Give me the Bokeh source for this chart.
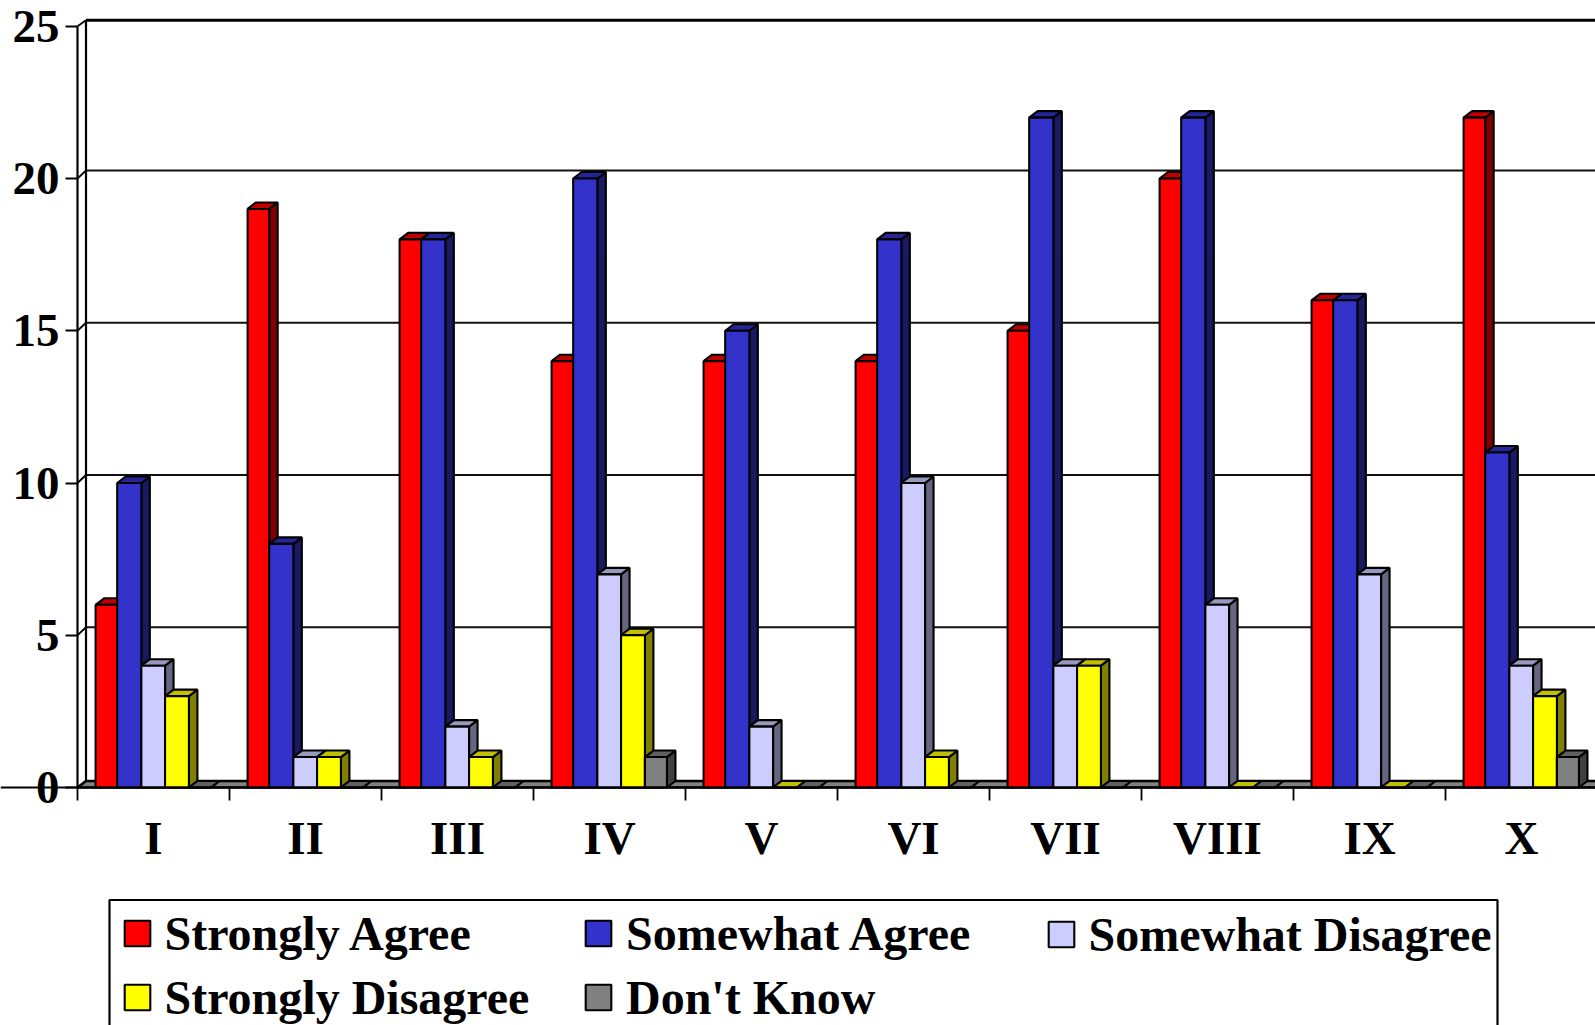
from bokeh.embed import file_html
from bokeh.resources import INLINE
from bokeh.plotting import figure
from bokeh.models import Range1d, FixedTicker, Legend, LegendItem, BoxAnnotation

questions = ["I", "II", "III", "IV", "V", "VI", "VII", "VIII", "IX", "X"]
strongly_agree = [6, 19, 18, 14, 14, 14, 15, 20, 16, 22]
somewhat_agree = [10, 8, 18, 20, 15, 18, 22, 22, 16, 11]
somewhat_disagree = [4, 1, 2, 7, 2, 10, 4, 6, 7, 4]
strongly_disagree = [3, 1, 1, 5, 0, 1, 4, 0, 0, 3]
dont_know = [0, 0, 0, 1, 0, 0, 0, 0, 0, 1]
y_ticks = [0, 5, 10, 15, 20, 25]

series_names = ["Strongly Agree", "Somewhat Agree", "Somewhat Disagree", "Strongly Disagree", "Don't Know"]
series_values = [strongly_agree, somewhat_agree, somewhat_disagree, strongly_disagree, dont_know]

# styling
FRONT = ["#ff0000", "#3333cc", "#ccccff", "#ffff00", "#808080"]
TOP = ["#c00000", "#262699", "#9999bf", "#c0c000", "#606060"]
SIDE = ["#800000", "#191966", "#666680", "#808000", "#404040"]
EDGES = [0.119, 0.261, 0.420, 0.576, 0.733, 0.878]
W, H = 1595, 1025
X0, Y0 = 77.0, 787.0
PX_X, PX_Y = 152.0, 30.45
DX, DY = 8.5 / PX_X, 6.5 / PX_Y
GRID_DY = 8.0 / PX_Y
TOP_DY = 6.0 / PX_Y
XMIN, XMAX = -X0 / PX_X, (W - X0) / PX_X
YMIN, YMAX = -(H - Y0) / PX_Y, Y0 / PX_Y
FONT = "Liberation Serif"
LW = 2.1

p = figure(width=W, height=H, output_backend="svg", toolbar_location=None,
           x_range=Range1d(XMIN, XMAX), y_range=Range1d(YMIN, YMAX),
           min_border_left=0, min_border_right=0, min_border_top=0, min_border_bottom=0,
           outline_line_color=None)
p.xgrid.visible = False
p.ygrid.visible = False

# floor
p.patch([0, XMAX, XMAX + DX, DX], [0, 0, DY, DY], fill_color="#808080", line_color="black", line_width=2.6)

# wall gridlines, back edge and their diagonals
inner = y_ticks[1:-1]
p.segment([DX for _ in inner], [t + GRID_DY for t in inner],
          [XMAX + DX for _ in inner], [t + GRID_DY for t in inner],
          line_color="#111111", line_width=1.8)
p.segment([DX], [y_ticks[-1] + TOP_DY], [XMAX + DX], [y_ticks[-1] + TOP_DY], line_color="black", line_width=3)
p.segment([0 for _ in inner], inner, [DX for _ in inner], [t + GRID_DY for t in inner],
          line_color="black", line_width=1.8)
p.segment([0], [y_ticks[0]], [DX], [y_ticks[0] + DY], line_color="black", line_width=1.8)
p.segment([0], [y_ticks[-1]], [DX], [y_ticks[-1] + TOP_DY], line_color="black", line_width=1.8)
p.segment([DX], [DY], [DX], [y_ticks[-1] + TOP_DY], line_color="black", line_width=2.2)

# bars
fronts = []
for k, vals in enumerate(series_values):
    lefts = [i + EDGES[k] for i in range(len(vals))]
    rights = [i + EDGES[k + 1] for i in range(len(vals))]
    p.patches([[r, r + DX, r + DX, r] for r in rights],
              [[0, DY, v + DY, v] for v in vals],
              fill_color=SIDE[k], line_color="black", line_width=LW)
    p.patches([[l, l + DX, r + DX, r] for l, r in zip(lefts, rights)],
              [[v, v + DY, v + DY, v] for v in vals],
              fill_color=TOP[k], line_color="black", line_width=LW)
    fronts.append(p.quad(left=lefts, right=rights, bottom=0, top=vals,
                         fill_color=FRONT[k], line_color="black", line_width=LW))

# axes
yax = p.yaxis[0]
yax.fixed_location = 0
yax.ticker = FixedTicker(ticks=y_ticks)
yax.bounds = (0, 25)
yax.major_tick_out = 12
yax.major_tick_in = 0
yax.minor_tick_out = 0
yax.minor_tick_in = 0
yax.major_tick_line_width = 1.8
yax.axis_line_width = 2.2
yax.major_label_standoff = 6
yax.major_label_text_font = FONT
yax.major_label_text_font_style = "bold"
yax.major_label_text_font_size = "47px"
yax.major_label_text_color = "black"

xax = p.xaxis[0]
xax.fixed_location = 0
xax.ticker = FixedTicker(ticks=[i + 0.5 for i in range(len(questions))],
                         minor_ticks=list(range(len(questions) + 1)))
xax.major_label_overrides = {i + 0.5: q for i, q in enumerate(questions)}
xax.major_tick_out = 0
xax.major_tick_in = 0
xax.minor_tick_out = 13
xax.minor_tick_in = 0
xax.minor_tick_line_width = 1.8
xax.minor_tick_line_color = "black"
xax.axis_line_width = 2.2
xax.major_label_standoff = 11
xax.major_label_text_font = FONT
xax.major_label_text_font_style = "bold"
xax.major_label_text_font_size = "47px"
xax.major_label_text_color = "black"

# legend: frame plus one borderless legend per column
p.add_layout(BoxAnnotation(left=109, right=1497, top=H - 899.5, bottom=-40,
                           left_units="screen", right_units="screen", top_units="screen", bottom_units="screen",
                           fill_color=None, fill_alpha=0, line_color="black", line_width=2.2, line_alpha=1))
columns = [((120.5, 0.5), [0, 3]), ((582, 0.5), [1, 4]), ((1044.5, 63.5), [2])]
for loc, idx in columns:
    items = [LegendItem(label=series_names[j], renderers=[fronts[j]]) for j in idx]
    p.add_layout(Legend(items=items, location=loc, orientation="vertical",
                        border_line_color=None, background_fill_alpha=0,
                        margin=0, padding=0, spacing=9, glyph_width=32, glyph_height=32,
                        label_standoff=12, label_text_font=FONT, label_text_font_style="bold",
                        label_text_font_size="48px", label_text_color="black", label_height=50), "center")

open("out.html", "w").write(file_html(p, INLINE))
